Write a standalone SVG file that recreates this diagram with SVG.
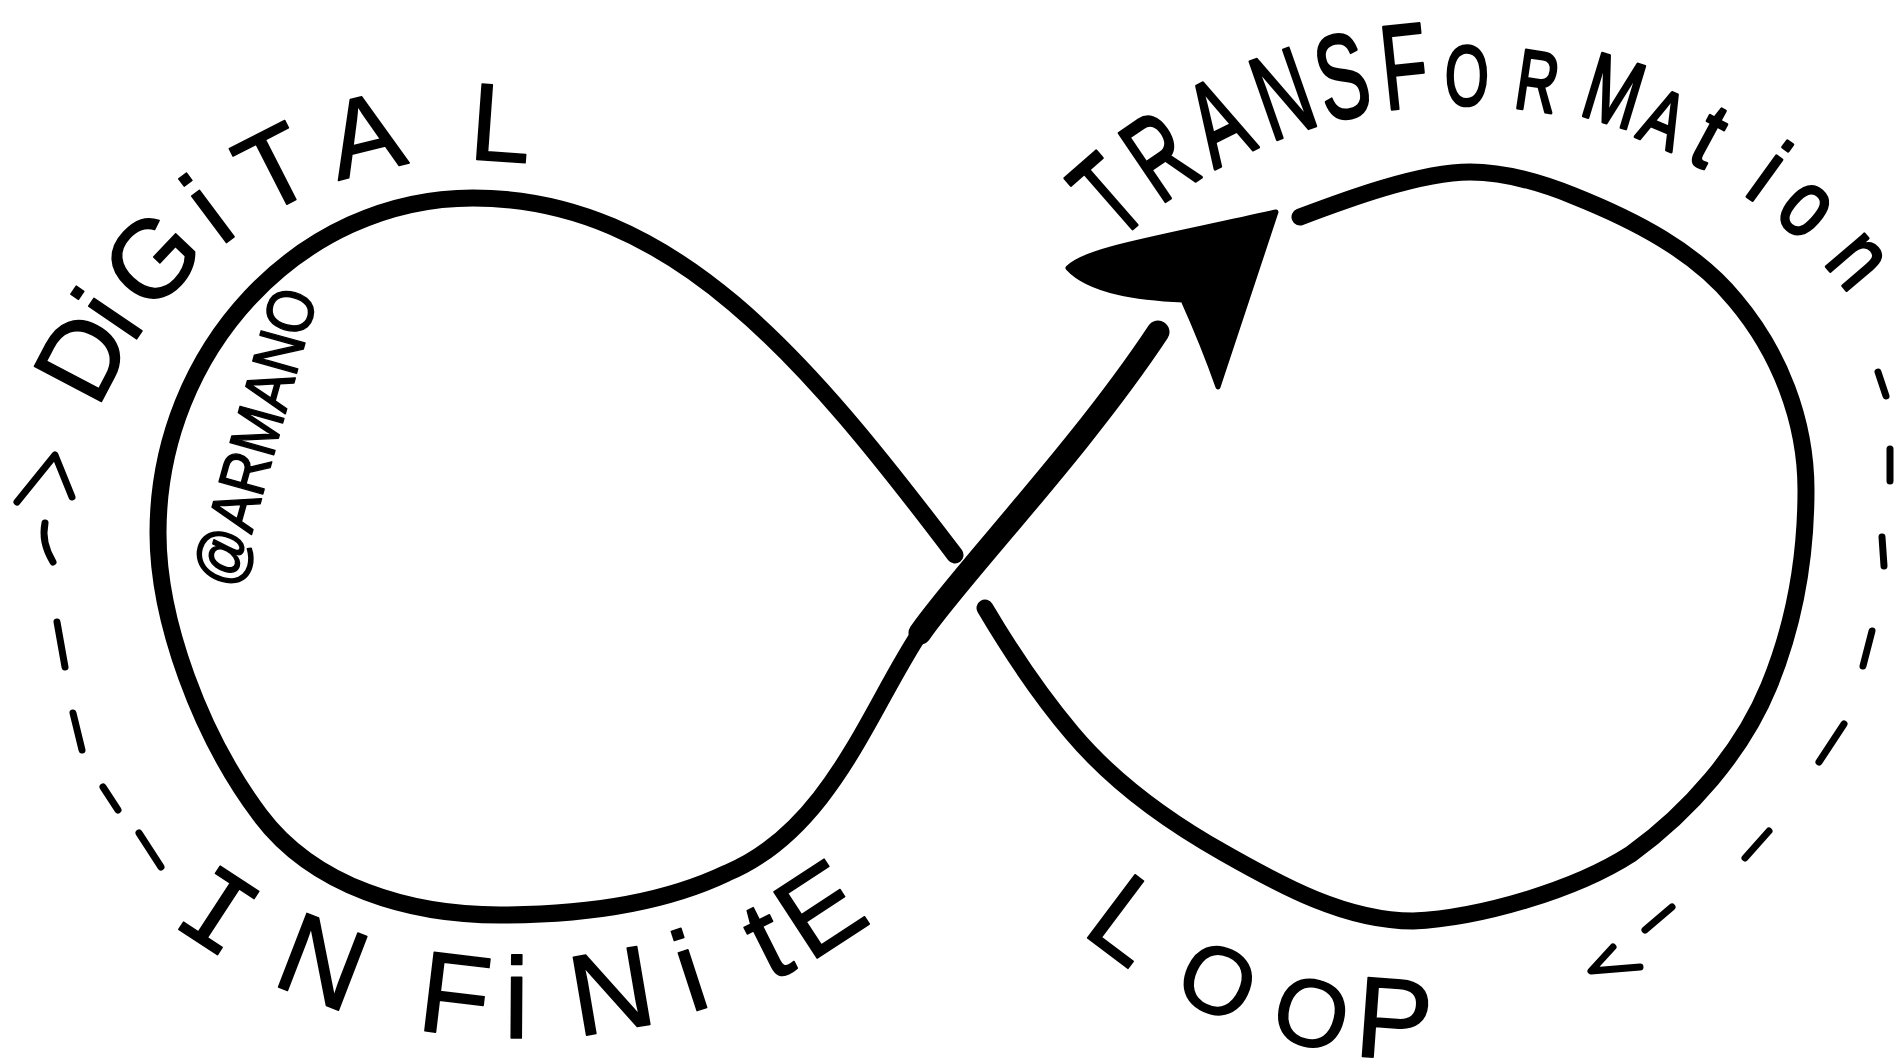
<svg xmlns="http://www.w3.org/2000/svg" width="1903" height="1064" viewBox="0 0 1903 1064">
<defs>
<style>
.ink{fill:none;stroke:#000;stroke-linecap:round;stroke-linejoin:round}
.loop{stroke-width:17}
.shaft{stroke-width:23}
.dash{stroke-width:7}
.lbl{font-family:"Liberation Sans","DejaVu Sans",sans-serif;fill:#000;stroke:#000;stroke-width:1.5;stroke-linejoin:round}
.thick{stroke-width:3}
.mono{font-family:"Liberation Mono","DejaVu Sans Mono",monospace}
</style>
<path id="arcDigital" d="M94.1,423.2 A400,400 0 0 1 606.8,184.1"/>
<path id="arcTrans" d="M1092.2,268.8 A495,495 0 0 1 1897.1,367.6"/>
<path id="arcInfinite" d="M158,913.4 A588,588 0 0 0 898,900.4"/>
<path id="arcLoop" d="M1048.2,901.8 A540,540 0 0 0 1477.1,1057.9"/>
</defs>
<rect width="1903" height="1064" fill="#fff"/>
<g id="connectors">
<path id="left-lobe" class="ink loop" d="M955,555 C807,360 673,198 473,198 C300,198 158,350 158,533 C158,620 200,735 260,815 C314,887 410,915 500,915 C580,915 660,905 727,873 C830,830 870,708 920,633 C960,575 1080,450 1158,332"/>
<path id="shaft" class="ink shaft" d="M920,633 C960,575 1080,450 1158,332"/>
<path id="right-lobe" class="ink loop" d="M985,608 C1011,652 1039,694 1072,733 C1114,783 1167,821 1224,853 C1282,886 1346,921 1413,921 C1480,918 1575,890 1631,854 C1689,812 1742,752 1769,686 C1794,625 1806,556 1806,490 C1806,420 1779,352 1735,300 C1695,251 1634,220 1574,196 C1542,183 1505,172 1470,172 C1420,172 1345,200 1300,217"/>
<path id="arrowhead" d="M1068,268 C1085,250 1150,240 1276,212 L1218,387 C1205,350 1192,320 1183,300 C1140,298 1090,292 1068,268 Z" fill="#000" stroke="#000" stroke-width="5" stroke-linejoin="round"/>
</g>
<g id="left-dashes" class="ink dash">
<path d="M17,502 L55,455 L72,497"/>
<path d="M45,523 Q41,542 53,562"/>
<path d="M57,622 L65,667"/>
<path d="M73,713 L82,750"/>
<path d="M103,787 L118,810"/>
<path d="M139,833 L161,867"/>
</g>
<g id="right-dashes" class="ink dash">
<path d="M1878,372 L1886,396"/>
<path d="M1890,449 L1890,481"/>
<path d="M1882,537 L1884,566"/>
<path d="M1872,631 L1863,666"/>
<path d="M1844,724 L1819,762"/>
<path d="M1769,831 L1745,858"/>
<path d="M1672,907 L1645,930"/>
<path d="M1613,947 L1591,971 L1640,967"/>
</g>
<g id="label-digital">
<text class="lbl" font-size="110"><textPath href="#arcDigital" startOffset="14">D<tspan dx="-6">i</tspan><tspan dx="9">G</tspan><tspan dx="13">i</tspan><tspan dx="26">T</tspan><tspan dx="26">A</tspan><tspan dx="58">L</tspan></textPath></text>
</g>
<g id="label-transformation">
<text class="lbl thick"><textPath href="#arcTrans" startOffset="37"><tspan font-size="120" textLength="46" lengthAdjust="spacingAndGlyphs">T</tspan><tspan font-size="120" dx="10" textLength="54" lengthAdjust="spacingAndGlyphs">R</tspan><tspan font-size="120" dx="11" textLength="50" lengthAdjust="spacingAndGlyphs">A</tspan><tspan font-size="120" dx="13" textLength="54" lengthAdjust="spacingAndGlyphs">N</tspan><tspan font-size="120" dx="5" textLength="50" lengthAdjust="spacingAndGlyphs">S</tspan><tspan font-size="120" dx="10" textLength="46" lengthAdjust="spacingAndGlyphs">F</tspan><tspan font-size="85" dx="13" textLength="44" lengthAdjust="spacingAndGlyphs">O</tspan><tspan font-size="85" dx="24" textLength="42" lengthAdjust="spacingAndGlyphs">R</tspan><tspan font-size="95" dx="23" textLength="56" lengthAdjust="spacingAndGlyphs" dy="-4">M</tspan><tspan font-size="80" dx="5" textLength="40" lengthAdjust="spacingAndGlyphs" dy="4">A</tspan><tspan font-size="95" dx="15" textLength="22" lengthAdjust="spacingAndGlyphs">t</tspan><tspan font-size="95" dx="45" textLength="18" lengthAdjust="spacingAndGlyphs">i</tspan><tspan font-size="95" dx="19" textLength="42" lengthAdjust="spacingAndGlyphs">o</tspan><tspan font-size="95" dx="27" textLength="42" lengthAdjust="spacingAndGlyphs">n</tspan></textPath></text>
</g>
<g id="label-infinite">
<text class="lbl" font-size="115"><textPath href="#arcInfinite" startOffset="15"><tspan class="mono">I</tspan><tspan dx="48">N</tspan><tspan dx="70">F</tspan><tspan dx="18">i</tspan><tspan dx="48">N</tspan><tspan dx="32">i</tspan><tspan dx="60">t</tspan><tspan dx="12">E</tspan></textPath></text>
</g>
<g id="label-loop">
<text class="lbl"><textPath href="#arcLoop" startOffset="44"><tspan font-size="115">L</tspan><tspan font-size="95" dx="46">O</tspan><tspan font-size="95" dx="32">O</tspan><tspan font-size="115" dx="13">P</tspan></textPath></text>
</g>
<g id="label-armano">
<text class="lbl" x="236" y="590" font-size="66" textLength="305" lengthAdjust="spacingAndGlyphs" transform="rotate(-74.4 236 590)" style="stroke-width:1.5">@ARMANO</text>
</g>
</svg>
